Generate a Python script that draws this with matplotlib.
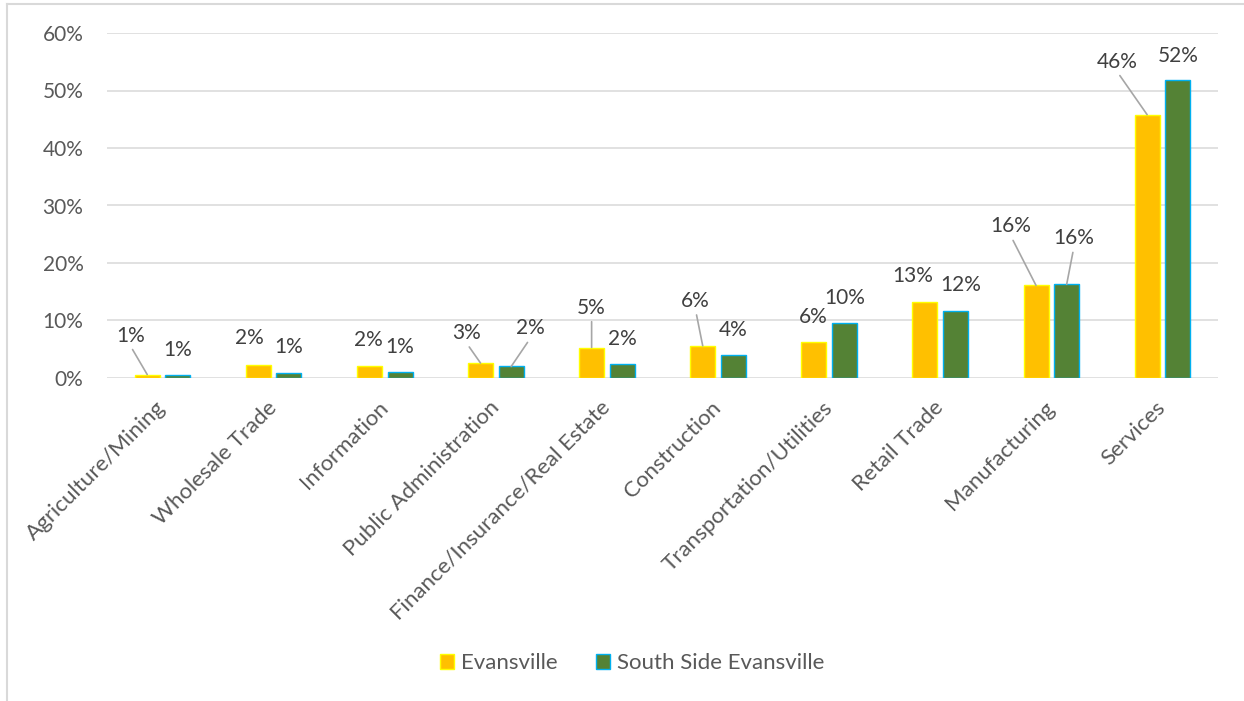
import numpy as np
import matplotlib.pyplot as plt
from matplotlib.lines import Line2D

plt.rcParams['font.family'] = ['Lato', 'DejaVu Sans']

# Share of employment by industry (%)
industries = ["Agriculture/Mining", "Wholesale Trade", "Information", "Public Administration",
              "Finance/Insurance/Real Estate", "Construction", "Transportation/Utilities",
              "Retail Trade", "Manufacturing", "Services"]
evansville = [0.6, 2.3, 2.1, 2.6, 5.3, 5.6, 6.2, 13.3, 16.1, 45.8]
south_side = [0.55, 0.9, 1.0, 2.0, 2.4, 4.0, 9.6, 11.7, 16.3, 51.9]
series_names = ["Evansville", "South Side Evansville"]
y_ticks = [0, 10, 20, 30, 40, 50, 60]

# label offsets from the top of each bar, in pixels (dx, dy)
off_ev = [(-17, 39), (-9, 27), (-1, 26), (-14, 30), (0, 40),
          (-7, 45), (-1, 25), (-12, 26), (-25, 59), (-30, 53)]
off_ss = [(0, 25), (0, 26), (0, 25), (19, 38), (0, 25),
          (0, 25), (0, 25), (5, 26), (7, 46), (0, 24)]

W, H, DPI = 1244, 701, 100
FS = 15
fig = plt.figure(figsize=(W / DPI, H / DPI), dpi=DPI)
ax = fig.add_axes([107 / W, 1 - 378 / H, (1218 - 107) / W, (378 - 33) / H])

x = np.arange(len(industries))
bw = 0.225
dx = 0.138
b1 = ax.bar(x - dx, evansville, bw, color="#FFC000", edgecolor="#FFFF00", linewidth=1,
            label=series_names[0], zorder=3)
b2 = ax.bar(x + dx, south_side, bw, color="#548235", edgecolor="#00B0F0", linewidth=1,
            label=series_names[1], zorder=3)

ax.set_xlim(-0.5, len(industries) - 0.5)
ax.set_ylim(0, 60)
ax.set_yticks(y_ticks)
ax.set_yticklabels([f"{t}%" for t in y_ticks])
ax.grid(axis="y", color="#D9D9D9", linewidth=1.1, zorder=0)
for s in ax.spines.values():
    s.set_visible(False)
ax.tick_params(axis="y", length=0, pad=17, labelsize=FS, labelcolor="#595959")
ax.tick_params(axis="x", length=0, pad=19, labelsize=16, labelcolor="#595959")
ax.set_xticks(x)
ax.set_xticklabels(industries, rotation=45, ha="right", va="center", rotation_mode="anchor")

px = 72 / DPI
leader = dict(arrowstyle="-", color="#A6A6A6", lw=1.2, shrinkA=1, shrinkB=0, relpos=(0.5, 0))
for xs, vals, offs in [(x - dx, evansville, off_ev), (x + dx, south_side, off_ss)]:
    for xi, v, (ox, oy) in zip(xs, vals, offs):
        long_ = np.hypot(ox, oy) > 32
        ax.annotate(f"{v:.0f}%", (xi, v), xytext=(ox * px, oy * px), textcoords="offset points",
                    ha="center", va="center", fontsize=FS, color="#404040",
                    arrowprops=leader if long_ else None, zorder=4)

fig.legend(handles=[b1, b2], loc="center", bbox_to_anchor=(632 / W, 1 - 663 / H), ncol=2,
           frameon=False, fontsize=16, labelcolor="#595959", handlelength=0.65,
           handleheight=0.65, handletextpad=0.3, columnspacing=1.7)

# chart border (left and top edges)
fig.add_artist(Line2D([7 / W, 7 / W], [0, 1 - 4 / H], color="#D9D9D9", lw=1.5))
fig.add_artist(Line2D([7 / W, 1], [1 - 4 / H, 1 - 4 / H], color="#D9D9D9", lw=1.5))

fig.savefig("out.png", dpi=DPI)
